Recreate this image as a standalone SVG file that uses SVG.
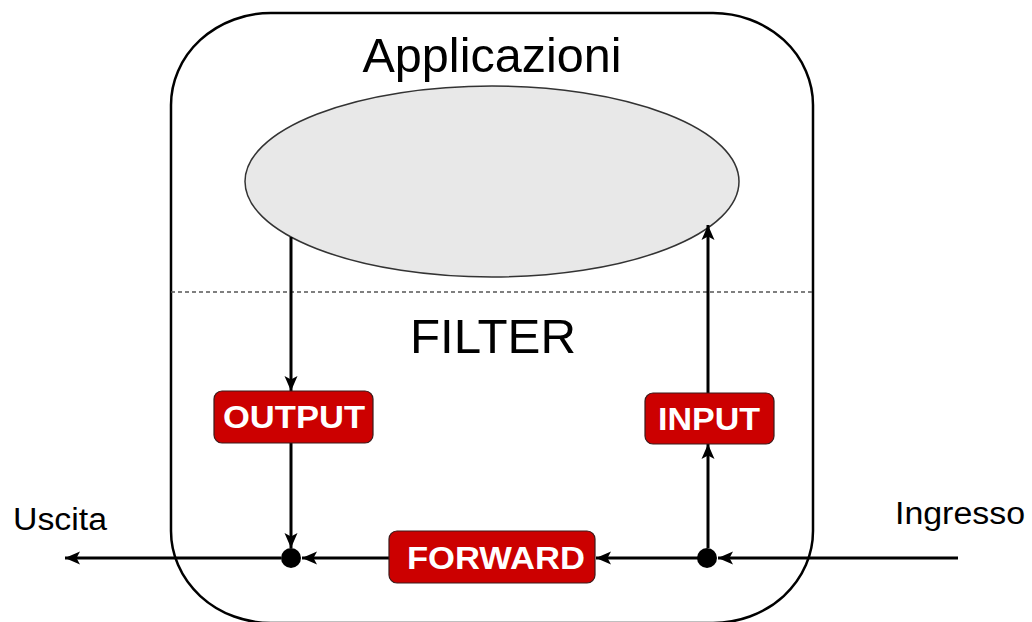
<svg xmlns="http://www.w3.org/2000/svg" width="1032" height="622" viewBox="0 0 1032 622">
  <defs>
    <marker id="arrow" markerUnits="userSpaceOnUse" markerWidth="16" markerHeight="16" viewBox="0 0 16 16" refX="15" refY="8" orient="auto">
      <path d="M0,1.5 L15,8 L0,14.5 L3.5,8 Z" fill="#000"/>
    </marker>
    <style>
      .label { font-family: "Liberation Sans", Arial, sans-serif; fill: #000; }
      .title { font-size: 48px; }
      .side { font-size: 31px; }
      .box { fill: #CC0000; stroke: #3a1a1a; stroke-width: 1.2; }
      .boxtext { font-family: "Liberation Sans", Arial, sans-serif; font-weight: bold; font-size: 31px; fill: #fff; text-anchor: middle; }
      .flow { stroke: #000; stroke-width: 3; fill: none; marker-end: url(#arrow); }
      .dot { fill: #000; }
    </style>
  </defs>

  <rect width="1032" height="622" fill="#fff"/>

  <!-- host boundary with user space above the dashed line and the filter below it -->
  <g id="host">
    <rect x="171" y="13" width="642" height="610" rx="100" ry="92" fill="none" stroke="#000" stroke-width="2.5"/>
    <line x1="171" y1="292" x2="813" y2="292" stroke="#555" stroke-width="1.5" stroke-dasharray="4 3"/>
    <text class="label title" x="492" y="72" text-anchor="middle" textLength="259" lengthAdjust="spacingAndGlyphs">Applicazioni</text>
    <text class="label title" x="493" y="353" text-anchor="middle" textLength="166" lengthAdjust="spacingAndGlyphs">FILTER</text>
  </g>

  <g id="applications">
    <ellipse cx="492" cy="181.5" rx="247" ry="95.5" fill="#E8E8E8" stroke="#333" stroke-width="1.5"/>
  </g>

  <!-- connectors -->
  <g id="connectors">
    <line class="flow" x1="291" y1="237" x2="291" y2="391"/>
    <line class="flow" x1="291" y1="443" x2="291" y2="548"/>
    <line class="flow" x1="708" y1="548" x2="708" y2="444"/>
    <line class="flow" x1="708" y1="393" x2="708" y2="225"/>
    <line class="flow" x1="958" y1="558" x2="718" y2="558"/>
    <line class="flow" x1="698" y1="558" x2="596" y2="558"/>
    <line class="flow" x1="389" y1="558" x2="302" y2="558"/>
    <line class="flow" x1="281" y1="558" x2="65" y2="558"/>
  </g>

  <g id="junction-out">
    <circle class="dot" cx="291" cy="558" r="10"/>
  </g>
  <g id="junction-in">
    <circle class="dot" cx="707" cy="558" r="10"/>
  </g>

  <g id="output">
    <rect class="box" x="214" y="391" width="159" height="52" rx="8"/>
    <text class="boxtext" x="294" y="428" textLength="142" lengthAdjust="spacingAndGlyphs">OUTPUT</text>
  </g>

  <g id="input">
    <rect class="box" x="645" y="393" width="129" height="51" rx="8"/>
    <text class="boxtext" x="709" y="430" textLength="102" lengthAdjust="spacingAndGlyphs">INPUT</text>
  </g>

  <g id="forward">
    <rect class="box" x="389" y="531" width="206" height="52" rx="8"/>
    <text class="boxtext" x="496" y="569" textLength="178" lengthAdjust="spacingAndGlyphs">FORWARD</text>
  </g>

  <g id="endpoints">
    <text class="label side" x="13" y="530" textLength="94" lengthAdjust="spacingAndGlyphs">Uscita</text>
    <text class="label side" x="895" y="524" textLength="130" lengthAdjust="spacingAndGlyphs">Ingresso</text>
  </g>
</svg>
